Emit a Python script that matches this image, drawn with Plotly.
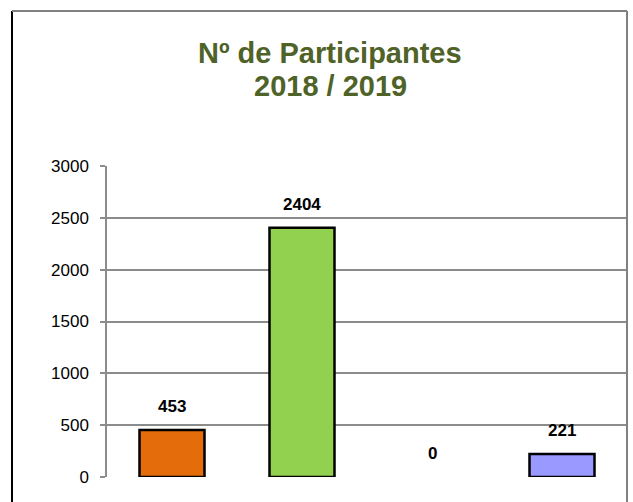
import plotly.graph_objects as go

categories = ["Cat 1", "Cat 2", "Cat 3", "Cat 4"]
participantes = [453, 2404, 0, 221]
colors = ["#E46C0A", "#92D050", "#9999FF", "#9999FF"]
y_ticks = [0, 500, 1000, 1500, 2000, 2500, 3000]
title_lines = ["Nº de Participantes", "2018 / 2019"]

FONT = "Liberation Sans, Arial, sans-serif"

fig = go.Figure()

fig.add_trace(go.Bar(
    x=categories,
    y=participantes,
    marker=dict(color=colors,
                line=dict(color="black",
                          width=[2.5 if v > 0 else 0 for v in participantes])),
    width=0.5,
    showlegend=False,
    hoverinfo="x+y",
))

# etiquetas de valor encima de las barras
for cat, val in zip(categories, participantes):
    fig.add_annotation(
        x=cat, y=val, text=f"<b>{val}</b>",
        showarrow=False, yanchor="bottom", yshift=12,
        font=dict(family=FONT, size=17, color="black"),
    )

# conversión de píxeles a coordenadas "paper"
def px_x(p):
    return (p - 107) / 520

def px_y(p):
    return (477 - p) / 311

# título en dos líneas
for line, ypx in zip(title_lines, [53, 86]):
    fig.add_annotation(
        xref="paper", yref="paper", x=px_x(330), y=px_y(ypx),
        text=f"<b>{line}</b>", showarrow=False,
        xanchor="center", yanchor="middle",
        font=dict(family=FONT, size=29, color="#4F6228"),
    )

# marco del gráfico
fig.add_shape(type="line", xref="paper", yref="paper",
              x0=px_x(12), x1=px_x(12), y0=px_y(11), y1=px_y(520),
              line=dict(color="black", width=2))
fig.add_shape(type="line", xref="paper", yref="paper",
              x0=px_x(12), x1=px_x(627), y0=px_y(11), y1=px_y(11),
              line=dict(color="#808080", width=2))
fig.add_shape(type="line", xref="paper", yref="paper",
              x0=px_x(627), x1=px_x(627), y0=px_y(11), y1=px_y(520),
              line=dict(color="#808080", width=2))

fig.update_layout(
    width=633, height=502, autosize=False,
    margin=dict(l=107, r=6, t=166, b=25),
    plot_bgcolor="white", paper_bgcolor="white",
    xaxis=dict(showticklabels=False, showgrid=False, showline=False,
               ticks="", zeroline=False),
    yaxis=dict(
        range=[0, 3000], tickvals=y_ticks,
        showgrid=True, gridcolor="#8C8C8C", gridwidth=1.5,
        showline=True, linecolor="#8C8C8C", linewidth=1.5,
        ticks="outside", ticklen=5, tickcolor="#8C8C8C", tickwidth=1.5,
        tickfont=dict(family=FONT, size=17, color="black"),
        ticklabelstandoff=8,
        zeroline=False,
    ),
)

fig.write_html("out.html", config={"displayModeBar": False},
               post_script="document.body.style.margin='0';")
